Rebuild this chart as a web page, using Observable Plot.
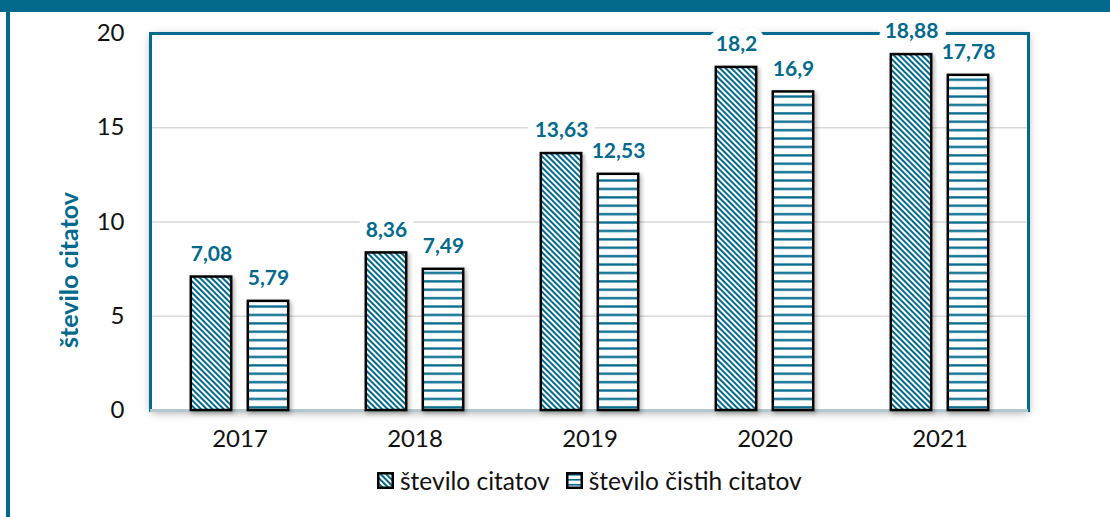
<!DOCTYPE html>
<html>
<head>
<meta charset="utf-8">
<script src="https://cdn.jsdelivr.net/npm/d3@7"></script>
<script src="https://cdn.jsdelivr.net/npm/@observablehq/plot@0.6"></script>
<style>
  html, body { margin: 0; padding: 0; background: #fff; }
  body { width: 1110px; height: 517px; position: relative; overflow: hidden; font-family: Lato, "Open Sans", sans-serif; }
  #chart { position: absolute; left: 0; top: 0; }
  .band-top { position: absolute; left: 0; top: 0; width: 1110px; height: 12px; background: #036a8e; }
  .band-left { position: absolute; left: 6px; top: 0; width: 4px; height: 517px; background: #036a8e; }
  #legend { position: absolute; top: 466px; left: 377px; display: flex; align-items: center; font-size: 24.5px; color: #111; white-space: nowrap; }
  #legend .item { display: flex; align-items: center; margin-right: 16px; }
  #legend svg { margin-right: 6px; }
  #ylabel { position: absolute; left: 68px; top: 270px; transform: translate(-50%, -50%) rotate(-90deg); color: #036a8e; font-weight: bold; font-size: 25px; white-space: nowrap; }
</style>
</head>
<body>
<svg width="0" height="0" style="position:absolute">
  <defs>
    <pattern id="pat-diag" patternUnits="userSpaceOnUse" width="4" height="4" patternTransform="rotate(-45)">
      <rect width="4" height="4" fill="#fff"></rect>
      <rect width="2" height="4" fill="#036a8e"></rect>
    </pattern>
    <pattern id="pat-horiz" patternUnits="userSpaceOnUse" width="10" height="8.4">
      <rect width="10" height="8.4" fill="#fff"></rect>
      <rect y="3" width="10" height="2.3" fill="#036a8e"></rect>
    </pattern>
    <pattern id="pat-horiz-small" patternUnits="userSpaceOnUse" width="10" height="5">
      <rect width="10" height="5" fill="#fff"></rect>
      <rect y="2" width="10" height="1.6" fill="#036a8e"></rect>
    </pattern>
  </defs>
</svg>
<div id="chart"></div>
<div class="band-top"></div>
<div class="band-left"></div>
<div id="ylabel"></div>
<div id="legend"></div>
<script>
const years = ["2017", "2018", "2019", "2020", "2021"];
const seriesNames = ["število citatov", "število čistih citatov"];
const citations = [7.08, 8.36, 13.63, 18.2, 18.88];
const cleanCitations = [5.79, 7.49, 12.53, 16.9, 17.78];
const yTicks = [0, 5, 10, 15, 20];
const yTitle = "število citatov";

const teal = "#036a8e";
const patterns = ["url(#pat-diag)", "url(#pat-horiz)"];
const offsets = [-28.5, 28.5];

const data = [];
years.forEach((y, i) => {
  data.push({year: y, series: seriesNames[0], value: citations[i], k: 0});
  data.push({year: y, series: seriesNames[1], value: cleanCitations[i], k: 1});
});
const fmt = v => String(v).replace(".", ",");

const barMarks = [0, 1].map(k => Plot.barY(data.filter(d => d.k === k), {
  x: "year", y: "value", fill: patterns[k], stroke: "#000", strokeWidth: 2.5,
  insetLeft: 67.3, insetRight: 67.3, dx: offsets[k]
}));
const textMarks = [0, 1].map(k => Plot.text(data.filter(d => d.k === k), {
  x: "year", y: "value", text: d => fmt(d.value), dx: offsets[k], dy: -23,
  fill: teal, fontWeight: "bold", fontSize: 21, stroke: "#fff", strokeWidth: 16,
  paintOrder: "stroke", strokeLinejoin: "round"
}));

const chart = Plot.plot({
  width: 1110,
  height: 462,
  marginLeft: 150,
  marginRight: 82,
  marginTop: 33,
  marginBottom: 52,
  style: {fontFamily: "Lato, 'Open Sans', sans-serif", fontSize: "24px", color: "#111", background: "transparent", overflow: "visible"},
  x: {type: "band", domain: years, padding: 0, label: null},
  y: {domain: [0, 20], label: null},
  marks: [
    Plot.frame({fill: "#fff", stroke: "none"}),
    Plot.gridY(yTicks.filter(t => t > 0 && t < 20), {stroke: "#d9d9d9", strokeOpacity: 1, strokeWidth: 1.5}),
    Plot.frame({stroke: teal, strokeWidth: 3}),
    Plot.ruleY([0], {stroke: "#b3c8d1", strokeWidth: 3}),
    ...barMarks,
    ...textMarks,
    Plot.axisY(yTicks, {tickSize: 0, tickPadding: 26, fontSize: 24, label: null, fill: "#111"}),
    Plot.axisX({tickSize: 0, tickPadding: 19, fontSize: 24, label: null, fill: "#111"})
  ]
});
document.getElementById("chart").appendChild(chart);
document.getElementById("ylabel").textContent = yTitle;

// drop shadows on plot area and bars
const frames = chart.querySelectorAll('[aria-label="frame"]');
if (frames[0]) frames[0].style.filter = "drop-shadow(0px 2px 4px rgba(0,0,0,0.35))";
chart.querySelectorAll('[aria-label="bar"]').forEach(g => g.style.filter = "drop-shadow(2px 2px 2px rgba(0,0,0,0.3))");

// legend
const legend = document.getElementById("legend");
const swatchFills = ["url(#pat-diag)", "url(#pat-horiz-small)"];
seriesNames.forEach((name, k) => {
  const item = document.createElement("div");
  item.className = "item";
  item.innerHTML = `<svg width="17" height="17"><rect x="1.25" y="1.25" width="14.5" height="14.5" fill="${swatchFills[k]}" stroke="#000" stroke-width="2.5"></rect></svg><span>${name}</span>`;
  legend.appendChild(item);
});
</script>
</body>
</html>
